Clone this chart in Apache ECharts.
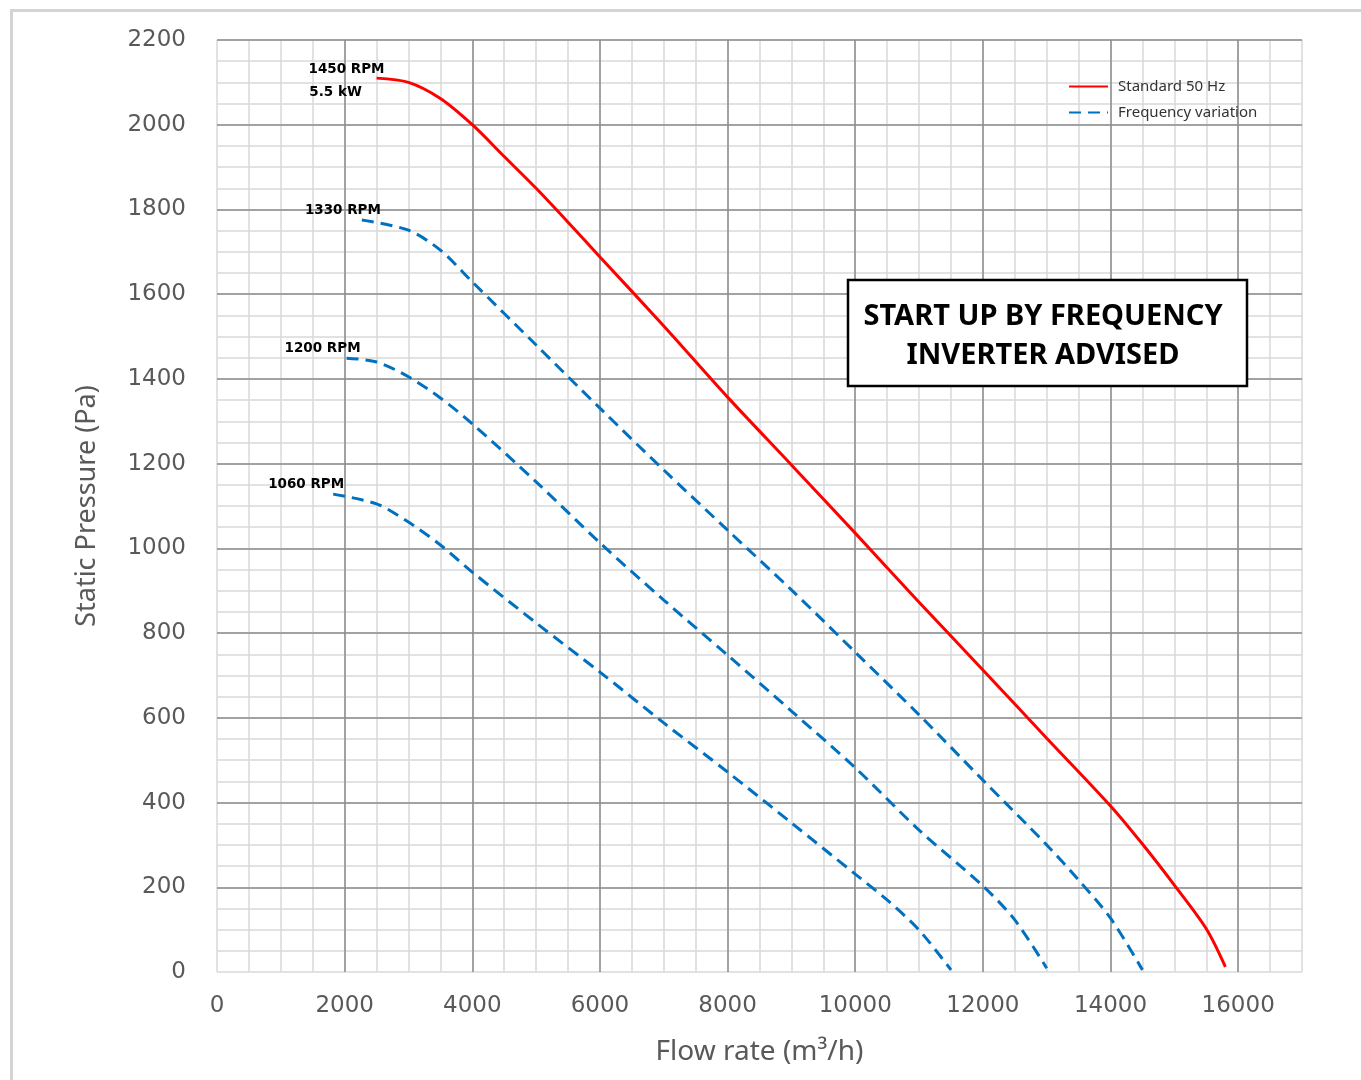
<!DOCTYPE html>
<html><head><meta charset="utf-8">
<script src="https://cdn.jsdelivr.net/npm/echarts@6/dist/echarts.min.js"></script>
<style>html,body{margin:0;padding:0;background:#fff}#c{width:1361px;height:1080px}</style>
</head><body><div id="c"></div>
<script>
// ---- data (flow m3/h, static pressure Pa) ----
const flow1450 = [2500,3000,3500,4000,4500,5000,5500,6000,7000,8000,9000,10000,11000,12000,13000,14000,14500,15000,15500,15800];
const pres1450 = [2110,2100,2062,2000,1925,1850,1770,1688,1525,1357,1197,1036,873,713,552,392,302,205,102,12];
const flow1330 = [2270,3000,3500,4000,5000,6000,7000,8000,9000,10000,11000,12000,13000,13500,14000,14500];
const pres1330 = [1775,1751,1704,1629,1480,1331,1185,1043,902,755,607,453,300,217,127,5];
const flow1200 = [2030,2500,3000,3500,4000,5000,6000,7000,8000,9000,10000,11000,12000,12500,13000];
const pres1200 = [1449,1440,1405,1355,1294,1157,1013,878,748,616,482,335,203,123,9];
const flow1060 = [1820,2500,3000,3500,4000,5000,6000,7000,8000,9000,10000,10500,11000,11500];
const pres1060 = [1128,1105,1062,1008,944,824,708,588,472,352,231,170,99,5];
const xTicks = [0,2000,4000,6000,8000,10000,12000,14000,16000];
const yTicks = [0,200,400,600,800,1000,1200,1400,1600,1800,2000,2200];
const curveLabels = ['1450 RPM','1330 RPM','1200 RPM','1060 RPM'];
const powerLabel = '5.5 kW';
const legendNames = ['Standard 50 Hz','Frequency variation'];
const boxText = ['START UP BY FREQUENCY','INVERTER ADVISED'];

const zip = (a,b) => a.map((v,i)=>[v,b[i]]);
const RED = '#ff0000', BLUE = '#0070c0';
const minorCol = '#d9d9d9', majorCol = '#8c8c8c';
const tickFont = 'DejaVu Sans';

function mp(x, y, text, off) {
  return {coord:[x,y], label:{formatter:text, offset:off}};
}
const mpBase = {
  symbol:'rect', symbolSize:[1,1], itemStyle:{color:'rgba(0,0,0,0)'},
  label:{show:true, position:'inside', color:'#000', fontWeight:'bold', fontSize:13.5, fontFamily:'DejaVu Sans'},
  animation:false
};

function blueSeries(fl, pr, lbl, off) {
  return {
    name: legendNames[1], type:'line', xAxisIndex:1, yAxisIndex:1,
    data: zip(fl, pr), smooth:0.3, symbol:'none', showSymbol:false,
    lineStyle:{color:BLUE, width:3, type:[12,7]}, itemStyle:{color:BLUE}, z:5,
    markPoint: Object.assign({}, mpBase, {data:[mp(fl[0], pr[0], lbl, off)]})
  };
}

const chart = echarts.init(document.getElementById('c'), null, {renderer:'canvas'});
chart.setOption({
  animation:false,
  backgroundColor:'#fff',
  grid:{left:217, right:59, top:40, bottom:108, containLabel:false},
  xAxis:[
    {type:'value', min:0, max:17000, interval:500, position:'bottom', z:0,
     axisLine:{show:false}, axisTick:{show:false}, axisLabel:{show:false},
     splitLine:{show:true, lineStyle:{color:minorCol, width:1.5}}},
    {type:'value', min:xTicks[0], max:17000, interval:xTicks[1]-xTicks[0], position:'bottom', z:1,
     axisLine:{show:false}, axisTick:{show:false},
     axisLabel:{show:true, showMaxLabel:false, fontSize:23, color:'#595959', fontFamily:tickFont, margin:23,
                formatter: v => String(v)},
     splitLine:{show:true, showMinLine:false, showMaxLine:false, lineStyle:{color:majorCol, width:1.5}},
     name:'Flow rate (m³/h)', nameLocation:'middle', nameGap:66,
     nameTextStyle:{fontSize:28, color:'#595959', fontFamily:'Noto Sans'}}
  ],
  yAxis:[
    {type:'value', min:0, max:2200, interval:50, position:'left', z:0,
     axisLine:{show:false}, axisTick:{show:false}, axisLabel:{show:false},
     splitLine:{show:true, lineStyle:{color:minorCol, width:1.5}}},
    {type:'value', min:yTicks[0], max:yTicks[yTicks.length-1], interval:yTicks[1]-yTicks[0], position:'left', z:1,
     axisLine:{show:false}, axisTick:{show:false},
     axisLabel:{show:true, fontSize:23, color:'#595959', fontFamily:tickFont, margin:31, padding:[0,0,7,0],
                formatter: v => String(v)},
     splitLine:{show:true, showMinLine:false, showMaxLine:true, lineStyle:{color:majorCol, width:1.5}},
     name:'Static Pressure (Pa)', nameLocation:'middle', nameGap:116, nameRotate:90,
     nameTextStyle:{fontSize:27, color:'#595959', fontFamily:'Noto Sans'}}
  ],
  legend:{
    orient:'vertical', left:1063, top:74, itemWidth:39, itemHeight:14, itemGap:11,
    data:legendNames,
    itemStyle:{opacity:0},
    textStyle:{fontSize:15, color:'#333', fontFamily:'Noto Sans', padding:[0,0,0,5]}
  },
  series:[
    {
      name: legendNames[0], type:'line', xAxisIndex:1, yAxisIndex:1,
      data: zip(flow1450, pres1450), smooth:0.3, symbol:'none', showSymbol:false,
      lineStyle:{color:RED, width:3}, itemStyle:{color:RED}, z:6,
      markPoint: Object.assign({}, mpBase, {data:[
        mp(flow1450[0], pres1450[0], curveLabels[0], [-30,-9]),
        mp(flow1450[0], pres1450[0], powerLabel, [-41,14])
      ]})
    },
    blueSeries(flow1330, pres1330, curveLabels[1], [-19,-10]),
    blueSeries(flow1200, pres1200, curveLabels[2], [-24,-10]),
    blueSeries(flow1060, pres1060, curveLabels[3], [-27,-10])
  ],
  graphic:[
    {type:'polyline', z:100, shape:{points:[[1361,10.5],[11.5,10.5],[11.5,1080]]},
     style:{stroke:'#d4d4d4', lineWidth:3, fill:null}},
    {type:'rect', z:100, shape:{x:848, y:280, width:399, height:106},
     style:{fill:'#fff', stroke:'#000', lineWidth:2.5}},
    {type:'text', z:101, x:1043, y:336,
     style:{text:boxText.join('\n'), align:'center', verticalAlign:'middle',
            font:'bold 29px "Noto Sans"', lineHeight:39, fill:'#000'}}
  ]
});
</script>
</body></html>
